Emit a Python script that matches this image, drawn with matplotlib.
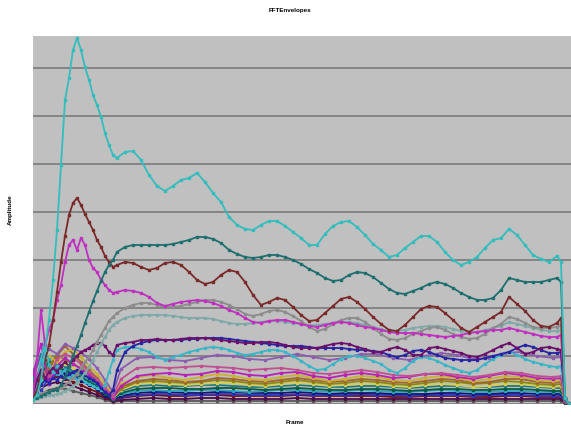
import numpy as np
import matplotlib
matplotlib.use("Agg")
import matplotlib.pyplot as plt
from matplotlib.ticker import MultipleLocator

plt.rcParams['font.family'] = ['Liberation Sans', 'DejaVu Sans']

# frame numbers: fine sampling for the strong envelopes, coarse for the weak ones
frames_fine = np.r_[np.arange(0, 43, 2), np.arange(46, 263, 4), [264, 266, 268]]
frames_coarse = np.r_[np.arange(0, 45, 4), np.arange(52, 261, 8), [264, 266, 268]]

# strong bins
env_cyan = [4, 9, 24, 54, 84, 124, 174, 239, 304, 326, 354, 366, 354, 337, 324, 309, 299, 287, 271, 259, 249, 246,
            252, 253, 244, 229, 218, 213, 218, 224, 226, 231, 222, 211, 202, 187, 179, 175, 174, 179, 183, 183,
            178, 172, 166, 159, 159, 170, 178, 182, 183, 177, 169, 160, 154, 147, 149, 156, 162, 168, 168, 162,
            152, 144, 139, 142, 147, 156, 164, 166, 175, 169, 159, 149, 145, 142, 148,
            142, 6, 0]
env_teal = [4, 6, 8, 10, 12, 14, 14, 19, 27, 38, 48, 58, 69, 81, 92, 103, 113, 123, 132, 139, 144, 152,
            157, 159, 159, 159, 159, 159, 160, 162, 164, 167, 167, 165, 161, 154, 150, 147, 146, 147, 149, 149,
            147, 144, 140, 135, 131, 126, 123, 124, 129, 132, 131, 127, 121, 115, 111, 110, 113, 116, 120, 122,
            120, 116, 111, 107, 104, 104, 106, 114, 126, 124, 122, 122, 122, 124, 126,
            122, 6, 0]
env_maroon = [6, 14, 29, 44, 59, 84, 112, 142, 168, 189, 201, 206, 199, 190, 182, 174, 164, 157, 148, 142, 137, 139,
              142, 141, 137, 134, 136, 141, 142, 139, 132, 124, 120, 122, 129, 134, 132, 122, 109, 99, 102, 106,
              104, 97, 89, 83, 84, 91, 98, 105, 107, 102, 95, 87, 80, 74, 73, 79, 87, 95, 98, 97,
              91, 84, 76, 72, 77, 82, 87, 92, 107, 100, 93, 84, 78, 77, 81,
              86, 6, 0]
env_magenta = [8, 44, 94, 59, 74, 84, 104, 119, 142, 159, 164, 154, 166, 159, 144, 136, 132, 124, 119, 114, 111, 112,
               114, 113, 111, 107, 101, 98, 100, 102, 103, 104, 103, 101, 98, 94, 91, 86, 82, 81, 83, 84,
               84, 82, 80, 78, 77, 79, 81, 82, 81, 79, 77, 76, 74, 72, 71, 71, 71, 70, 69, 68,
               67, 68, 69, 71, 72, 73, 74, 74, 76, 74, 72, 70, 68, 67, 67,
               69, 6, 0]
env_gray = [6, 8, 10, 12, 12, 14, 14, 16, 19, 22, 26, 30, 36, 42, 47, 54, 62, 69, 76, 83, 87, 91,
            96, 99, 101, 101, 99, 97, 97, 98, 100, 102, 104, 104, 102, 99, 95, 90, 88, 90, 93, 94,
            92, 88, 83, 77, 73, 75, 80, 84, 86, 86, 82, 76, 70, 65, 64, 66, 70, 73, 76, 77,
            74, 70, 67, 65, 66, 70, 76, 80, 87, 85, 81, 77, 76, 76, 77,
            79, 6, 0]
env_slate = [5, 6, 7, 8, 9, 9, 10, 11, 13, 15, 18, 21, 26, 31, 37, 44, 52, 60, 67, 74, 79, 82,
             86, 88, 89, 89, 89, 89, 88, 87, 86, 86, 86, 85, 83, 81, 80, 80, 81, 82, 83, 83,
             82, 81, 80, 79, 79, 80, 81, 82, 82, 81, 79, 77, 75, 73, 73, 74, 76, 77, 78, 78,
             77, 75, 73, 72, 72, 74, 76, 78, 82, 80, 78, 76, 74, 73, 73,
             74, 6, 0]
env_purple = [9, 24, 34, 26, 32, 36, 32, 38, 42, 38, 44, 48, 52, 54, 56, 59, 61, 61, 58, 52, 49, 59,
              61, 62, 64, 64, 65, 64, 64, 65, 66, 66, 66, 65, 64, 63, 62, 61, 61, 62, 62, 61,
              59, 57, 56, 56, 56, 58, 60, 61, 60, 57, 55, 52, 52, 55, 57, 54, 49, 49, 56, 57,
              55, 53, 51, 48, 47, 50, 54, 58, 61, 56, 50, 52, 56, 57, 55,
              54, 6, 0]
env_blue = [6, 12, 19, 24, 21, 26, 24, 28, 26, 30, 32, 34, 32, 29, 26, 24, 21, 16, 12, 9, 14, 34,
            52, 58, 61, 63, 64, 64, 64, 64, 65, 65, 66, 66, 66, 65, 64, 63, 62, 61, 60, 59,
            58, 58, 58, 57, 56, 56, 56, 56, 55, 54, 54, 53, 52, 49, 47, 49, 53, 54, 52, 49,
            46, 45, 44, 44, 44, 46, 48, 50, 52, 56, 59, 57, 54, 51, 51,
            52, 5, 0]
env_aqua = [6, 19, 44, 64, 39, 32, 38, 30, 34, 27, 29, 24, 26, 22, 20, 18, 16, 14, 19, 32, 44, 54,
            57, 57, 55, 52, 47, 44, 47, 49, 52, 54, 56, 57, 56, 54, 51, 49, 50, 52, 54, 54,
            52, 48, 43, 38, 34, 35, 40, 45, 48, 48, 46, 43, 40, 34, 31, 36, 43, 47, 46, 43,
            39, 36, 33, 31, 34, 40, 45, 49, 52, 49, 45, 42, 40, 38, 37,
            38, 5, 0]

# weak bins
low_plum = [16, 40, 55, 50, 60, 56, 52, 45, 36, 24, 12, 35,
            46, 47, 44, 43, 46, 49, 48, 45, 44, 47, 50, 47, 44, 46, 50, 50, 46, 44, 48, 51, 49, 45, 46, 51, 52, 48, 46,
            47, 4, 0]
low_pink = [10, 35, 28, 45, 50, 46, 40, 32, 25, 16, 8, 25,
            36, 37, 36, 37, 38, 37, 36, 34, 35, 36, 34, 31, 30, 32, 34, 32, 29, 28, 30, 31, 29, 27, 29, 32, 31, 28, 27,
            28, 4, 0]
low_fuchsia = [30, 60, 20, 38, 46, 40, 35, 29, 22, 14, 6, 18,
               28, 30, 31, 29, 30, 33, 32, 29, 28, 31, 32, 28, 26, 29, 31, 29, 26, 27, 30, 30, 27, 25, 28, 31, 29, 26, 25,
               26, 3, 0]
low_gold = [15, 40, 48, 42, 52, 55, 47, 38, 30, 20, 10, 20,
            27, 29, 26, 24, 27, 30, 28, 25, 24, 27, 29, 26, 23, 25, 28, 27, 24, 23, 26, 28, 26, 23, 25, 28, 27, 24, 23,
            24, 3, 0]
low_brown = [10, 25, 36, 48, 58, 50, 42, 34, 26, 16, 8, 17,
             23, 25, 24, 22, 23, 26, 25, 23, 22, 24, 26, 24, 22, 23, 25, 24, 22, 21, 23, 25, 24, 21, 22, 25, 25, 22, 21,
             22, 3, 0]
low_olive = [20, 28, 38, 50, 44, 40, 36, 30, 24, 14, 7, 15,
             22, 23, 22, 21, 22, 24, 23, 21, 20, 22, 24, 22, 20, 21, 23, 22, 20, 19, 21, 23, 22, 20, 21, 23, 22, 20, 19,
             20, 3, 0]
low_straw = [5, 18, 32, 45, 40, 36, 33, 28, 22, 13, 6, 14,
             20, 21, 20, 19, 20, 21, 21, 19, 18, 20, 21, 20, 18, 19, 20, 20, 18, 17, 19, 20, 19, 17, 18, 20, 20, 18, 17,
             18, 3, 0]
low_teal = [25, 50, 35, 40, 38, 33, 30, 26, 20, 12, 6, 13,
            18, 19, 18, 18, 19, 19, 18, 17, 17, 18, 19, 18, 17, 17, 18, 18, 17, 16, 17, 18, 18, 17, 17, 18, 18, 17, 16,
            16, 3, 0]
low_green = [12, 30, 42, 36, 34, 30, 27, 22, 18, 10, 5, 11,
             15, 16, 16, 15, 15, 16, 16, 15, 14, 15, 16, 15, 14, 14, 15, 15, 14, 13, 14, 15, 15, 14, 14, 15, 15, 14, 13,
             13, 2, 0]
low_sky = [35, 20, 45, 30, 36, 32, 28, 24, 19, 11, 5, 10,
           13, 14, 13, 13, 14, 14, 13, 12, 13, 14, 14, 13, 12, 13, 14, 13, 12, 12, 13, 14, 13, 12, 12, 13, 13, 12, 12,
           12, 2, 0]
low_navy = [8, 22, 30, 33, 30, 27, 23, 19, 15, 8, 4, 8,
            11, 12, 12, 11, 11, 12, 12, 11, 11, 11, 12, 11, 10, 11, 11, 11, 10, 10, 10, 11, 11, 10, 10, 11, 11, 10, 10,
            10, 2, 0]
low_royal = [22, 14, 26, 30, 33, 29, 24, 20, 15, 9, 4, 7,
             9, 10, 10, 9, 9, 10, 10, 9, 9, 9, 10, 9, 9, 9, 10, 9, 9, 8, 9, 9, 9, 8, 9, 9, 9, 8, 8,
             8, 2, 0]
low_wine = [18, 26, 24, 28, 25, 22, 19, 15, 12, 7, 3, 6,
            8, 9, 8, 8, 9, 9, 8, 8, 8, 8, 9, 8, 8, 8, 8, 8, 7, 7, 8, 8, 8, 7, 7, 8, 8, 7, 7,
            7, 2, 0]
low_grape = [14, 16, 20, 22, 20, 18, 15, 12, 9, 6, 3, 4,
             5, 6, 5, 5, 6, 6, 5, 5, 5, 5, 6, 5, 5, 5, 5, 5, 5, 5, 5, 5, 5, 5, 5, 5, 5, 5, 5,
             5, 1, 0]
low_ash = [6, 10, 14, 16, 15, 13, 11, 9, 7, 4, 2, 3,
           3, 3, 3, 3, 3, 3, 3, 3, 3, 3, 3, 3, 3, 3, 3, 3, 3, 3, 3, 3, 3, 3, 3, 3, 3, 3, 3,
           3, 1, 0]

low_series = [
    (low_ash, '#5a5a5a'), (low_grape, '#4c0a4c'), (low_wine, '#70101a'), (low_royal, '#3038c0'),
    (low_navy, '#141470'), (low_sky, '#2fa3c4'), (low_green, '#0b5a3c'), (low_teal, '#1e7a7a'),
    (low_straw, '#d6cc5a'), (low_olive, '#8a8a10'), (low_brown, '#a06432'), (low_gold, '#c8b030'),
    (low_fuchsia, '#b820b8'), (low_pink, '#c05090'), (low_plum, '#8c5cb0'),
]
main_series = [
    (env_aqua, '#3ab5c8'), (env_blue, '#2525a5'), (env_purple, '#6a106a'), (env_slate, '#7fa8a8'),
    (env_gray, '#8c8c8c'), (env_magenta, '#c030c0'), (env_maroon, '#7a2a2a'), (env_teal, '#1f6f6f'),
    (env_cyan, '#33bdbd'),
]

fig = plt.figure(figsize=(5.71, 4.28), dpi=100)
ax = fig.add_axes([0.0578, 0.0561, 0.9422, 0.8598])
ax.set_facecolor('#c0c0c0')

for vals, col in low_series:
    ax.plot(frames_coarse, vals, color=col, lw=1.3, marker='s', ms=2.0, mec=col, mfc=col)
for vals, col in main_series:
    ax.plot(frames_fine, vals, color=col, lw=1.3, marker='s', ms=2.0, mec=col, mfc=col)

ax.set_xlim(0, 269)
ax.set_ylim(0, 368)
ax.yaxis.set_major_locator(MultipleLocator(48))
ax.grid(axis='y', color='#7a7a7a', lw=1.2)
ax.set_axisbelow(True)
ax.tick_params(left=False, bottom=False, labelleft=False, labelbottom=False)
for s in ax.spines.values():
    s.set_visible(False)

fig.text(0.508, 0.976, 'FFTEnvelopes', ha='center', va='center', fontsize=4.5, fontweight='bold')
fig.text(0.517, 0.013, 'Frame', ha='center', va='center', fontsize=4.5, fontweight='bold')
fig.text(0.018, 0.51, 'Amplitude', ha='center', va='center', rotation=90, fontsize=4.5, fontweight='bold')

fig.savefig('out.png', dpi=100)
